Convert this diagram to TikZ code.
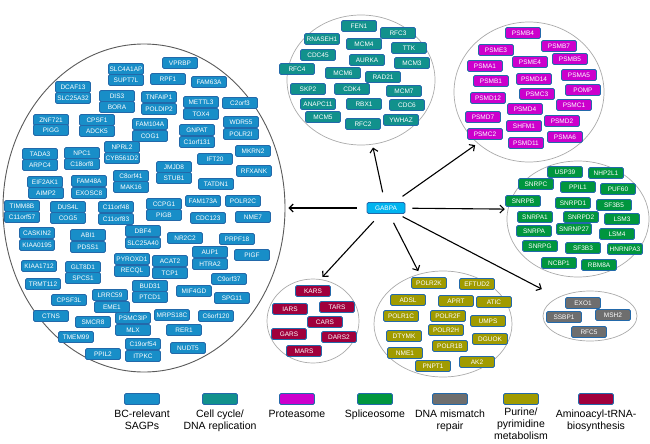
\documentclass[tikz,border=0pt]{standalone}
\usepackage{fontspec}
\setmainfont{Liberation Sans}
\usetikzlibrary{arrows.meta,positioning,shapes.geometric}
\definecolor{geneedge}{RGB}{35,105,170}
\definecolor{bcfill}{RGB}{24,142,200}
\definecolor{cycfill}{RGB}{17,145,140}
\definecolor{protfill}{RGB}{204,0,204}
\definecolor{splfill}{RGB}{0,150,62}
\definecolor{mmrfill}{RGB}{110,110,110}
\definecolor{purfill}{RGB}{160,155,0}
\definecolor{aarsfill}{RGB}{160,0,60}
\definecolor{gabfill}{RGB}{0,180,240}
\definecolor{grpline}{RGB}{170,170,170}

\begin{document}
\begin{tikzpicture}[x=1pt, y=-1pt,
    gene/.style={rounded corners=1.5pt, draw=geneedge, line width=0.8pt, text=white, font=\fontsize{6.5}{7}\selectfont, minimum width=35pt, minimum height=11pt, inner sep=1pt},
    bc/.style={gene, fill=bcfill},
    cyc/.style={gene, fill=cycfill},
    prot/.style={gene, fill=protfill},
    spl/.style={gene, fill=splfill},
    mmr/.style={gene, fill=mmrfill},
    pur/.style={gene, fill=purfill},
    aars/.style={gene, fill=aarsfill},
    grp/.style={ellipse, draw=grpline, line width=0.7pt, inner sep=0pt},
    legtxt/.style={align=center, font=\fontsize{10.5}{12}\selectfont, inner sep=0pt},
    >={Straight Barb[length=4pt,width=8pt]},
    arr/.style={->, line width=1.1pt, shorten <=10pt, shorten >=3pt}]
    \useasboundingbox (0,0) rectangle (650,444);

    % groups
    \node[grp, draw={rgb,255:red,90;green,90;blue,90}, line width=0.9pt, minimum width=282pt, minimum height=328pt] (bcset) at (144,208) {};
    \node[grp, minimum width=148pt, minimum height=130pt] (cellcyc) at (361,80) {};
    \node[grp, minimum width=150pt, minimum height=140pt] (proteas) at (529,92) {};
    \node[grp, minimum width=142pt, minimum height=116pt] (splice) at (578,219) {};
    \node[grp, minimum width=92pt, minimum height=84pt] (aminoacyl) at (313,321) {};
    \node[grp, minimum width=138pt, minimum height=106pt] (purine) at (443,324) {};
    \node[grp, minimum width=94pt, minimum height=50pt] (mismatch) at (590,316) {};

    % BC-relevant SAGPs
    \node[bc] (VPRBP) at (180,63) {VPRBP};
    \node[bc] (SLC4A1AP) at (126,69) {SLC4A1AP};
    \node[bc] (SUPT7L) at (126,80) {SUPT7L};
    \node[bc] (RPF1) at (168,79) {RPF1};
    \node[bc] (FAM63A) at (209,82) {FAM63A};
    \node[bc] (DCAF13) at (73,87) {DCAF13};
    \node[bc] (SLC25A32) at (73,98) {SLC25A32};
    \node[bc] (DIS3) at (117,96) {DIS3};
    \node[bc] (BORA) at (117,107) {BORA};
    \node[bc] (TNFAIP1) at (159,97) {TNFAIP1};
    \node[bc] (POLDIP2) at (159,109) {POLDIP2};
    \node[bc] (METTL3) at (201,102) {METTL3};
    \node[bc] (TOX4) at (201,114) {TOX4};
    \node[bc] (C2orf3) at (240,103) {C2orf3};
    \node[bc] (ZNF721) at (51,120) {ZNF721};
    \node[bc] (PIGG) at (51,130) {PIGG};
    \node[bc] (CPSF1) at (97,120) {CPSF1};
    \node[bc] (ADCK5) at (97,131) {ADCK5};
    \node[bc] (FAM104A) at (150,124) {FAM104A};
    \node[bc] (COG1) at (150,136) {COG1};
    \node[bc] (GNPAT) at (197,130) {GNPAT};
    \node[bc] (C1orf131) at (197,142) {C1orf131};
    \node[bc] (WDR55) at (241,122) {WDR55};
    \node[bc] (POLR2I) at (241,134) {POLR2I};
    \node[bc] (NPRL2) at (122,147) {NPRL2};
    \node[bc] (CYB561D2) at (122,158) {CYB561D2};
    \node[bc] (TADA3) at (40,154) {TADA3};
    \node[bc] (ARPC4) at (40,165) {ARPC4};
    \node[bc] (NPC1) at (82,153) {NPC1};
    \node[bc] (C18orf8) at (82,164) {C18orf8};
    \node[bc] (MKRN2) at (253,151) {MKRN2};
    \node[bc] (IFT20) at (215,159) {IFT20};
    \node[bc] (JMJD8) at (174,167) {JMJD8};
    \node[bc] (STUB1) at (174,178) {STUB1};
    \node[bc] (RFXANK) at (254,171) {RFXANK};
    \node[bc] (TATDN1) at (216,184) {TATDN1};
    \node[bc] (EIF2AK1) at (45,182) {EIF2AK1};
    \node[bc] (AIMP2) at (46,193) {AIMP2};
    \node[bc] (FAM48A) at (89,181) {FAM48A};
    \node[bc] (EXOSC8) at (89,193) {EXOSC8};
    \node[bc] (C8orf41) at (131,176) {C8orf41};
    \node[bc] (MAK16) at (131,187) {MAK16};
    \node[bc] (TIMM8B) at (22,206) {TIMM8B};
    \node[bc] (C11orf57) at (22,217) {C11orf57};
    \node[bc] (DUS4L) at (68,207) {DUS4L};
    \node[bc] (COG5) at (68,218) {COG5};
    \node[bc] (C11orf48) at (116,207) {C11orf48};
    \node[bc] (C11orf83) at (116,219) {C11orf83};
    \node[bc] (CCPG1) at (164,204) {CCPG1};
    \node[bc] (PIGB) at (164,215) {PIGB};
    \node[bc] (FAM173A) at (203,201) {FAM173A};
    \node[bc] (POLR2C) at (243,201) {POLR2C};
    \node[bc] (CDC123) at (208,218) {CDC123};
    \node[bc] (NME7) at (253,217) {NME7};
    \node[bc] (CASKIN2) at (37,233) {CASKIN2};
    \node[bc] (KIAA0195) at (37,245) {KIAA0195};
    \node[bc] (ABI1) at (88,235) {ABI1};
    \node[bc] (PDSS1) at (88,247) {PDSS1};
    \node[bc] (DBF4) at (143,231) {DBF4};
    \node[bc] (SLC25A40) at (143,243) {SLC25A40};
    \node[bc] (NR2C2) at (185,238) {NR2C2};
    \node[bc] (PRPF18) at (237,239) {PRPF18};
    \node[bc] (AUP1) at (210,252) {AUP1};
    \node[bc] (HTRA2) at (210,264) {HTRA2};
    \node[bc] (PIGF) at (252,255) {PIGF};
    \node[bc] (PYROXD1) at (132,259) {PYROXD1};
    \node[bc] (RECQL) at (132,271) {RECQL};
    \node[bc] (ACAT2) at (170,261) {ACAT2};
    \node[bc] (TCP1) at (170,273) {TCP1};
    \node[bc] (KIAA1712) at (39,266) {KIAA1712};
    \node[bc] (GLT8D1) at (83,267) {GLT8D1};
    \node[bc] (SPCS1) at (83,278) {SPCS1};
    \node[bc] (TRMT112) at (43,284) {TRMT112};
    \node[bc] (C9orf37) at (229,279) {C9orf37};
    \node[bc] (BUD31) at (150,286) {BUD31};
    \node[bc] (PTCD1) at (150,297) {PTCD1};
    \node[bc] (MIF4GD) at (194,291) {MIF4GD};
    \node[bc] (SPG11) at (232,298) {SPG11};
    \node[bc] (CPSF3L) at (69,300) {CPSF3L};
    \node[bc] (LRRC59) at (110,295) {LRRC59};
    \node[bc] (EME1) at (112,307) {EME1};
    \node[bc] (CTNS) at (51,316) {CTNS};
    \node[bc] (SMCR8) at (93,322) {SMCR8};
    \node[bc] (PSMC3IP) at (133,318) {PSMC3IP};
    \node[bc] (MLX) at (133,330) {MLX};
    \node[bc] (MRPS18C) at (172,315) {MRPS18C};
    \node[bc] (C6orf120) at (216,316) {C6orf120};
    \node[bc] (RER1) at (184,330) {RER1};
    \node[bc] (TMEM99) at (76,337) {TMEM99};
    \node[bc] (C19orf54) at (143,344) {C19orf54};
    \node[bc] (ITPKC) at (143,356) {ITPKC};
    \node[bc] (NUDT5) at (188,348) {NUDT5};
    \node[bc] (PPIL2) at (103,354) {PPIL2};

    % cell cycle / DNA replication
    \node[cyc] (FEN1) at (359,26) {FEN1};
    \node[cyc] (RFC3) at (398,33) {RFC3};
    \node[cyc] (RNASEH1) at (322,39) {RNASEH1};
    \node[cyc] (MCM4) at (364,44) {MCM4};
    \node[cyc] (TTK) at (409,48) {TTK};
    \node[cyc] (CDC45) at (318,55) {CDC45};
    \node[cyc] (AURKA) at (367,60) {AURKA};
    \node[cyc] (MCM3) at (412,63) {MCM3};
    \node[cyc] (RFC4) at (297,69) {RFC4};
    \node[cyc] (MCM6) at (343,73) {MCM6};
    \node[cyc] (RAD21) at (383,77) {RAD21};
    \node[cyc] (SKP2) at (308,89) {SKP2};
    \node[cyc] (CDK4) at (352,89) {CDK4};
    \node[cyc] (MCM7) at (404,91) {MCM7};
    \node[cyc] (ANAPC11) at (318,104) {ANAPC11};
    \node[cyc] (RBX1) at (364,104) {RBX1};
    \node[cyc] (CDC6) at (407,105) {CDC6};
    \node[cyc] (MCM5) at (323,117) {MCM5};
    \node[cyc] (YWHAZ) at (401,120) {YWHAZ};
    \node[cyc] (RFC2) at (363,124) {RFC2};

    % proteasome
    \node[prot] (PSMB4) at (523,33) {PSMB4};
    \node[prot] (PSME3) at (496,50) {PSME3};
    \node[prot] (PSMB7) at (559,46) {PSMB7};
    \node[prot] (PSME4) at (530,62) {PSME4};
    \node[prot] (PSMB5) at (570,59) {PSMB5};
    \node[prot] (PSMA1) at (485,66) {PSMA1};
    \node[prot] (PSMD14) at (534,79) {PSMD14};
    \node[prot] (PSMA5) at (579,75) {PSMA5};
    \node[prot] (PSMB1) at (491,81) {PSMB1};
    \node[prot] (PSMC3) at (537,94) {PSMC3};
    \node[prot] (POMP) at (583,90) {POMP};
    \node[prot] (PSMD12) at (488,98) {PSMD12};
    \node[prot] (PSMC1) at (574,105) {PSMC1};
    \node[prot] (PSMD4) at (525,109) {PSMD4};
    \node[prot] (PSMD7) at (483,117) {PSMD7};
    \node[prot] (SHFM1) at (524,126) {SHFM1};
    \node[prot] (PSMD2) at (562,121) {PSMD2};
    \node[prot] (PSMC2) at (485,134) {PSMC2};
    \node[prot] (PSMA6) at (565,137) {PSMA6};
    \node[prot] (PSMD11) at (526,143) {PSMD11};

    % spliceosome
    \node[spl] (USP39) at (565,172) {USP39};
    \node[spl] (NHP2L1) at (606,173) {NHP2L1};
    \node[spl] (SNRPC) at (536,184) {SNRPC};
    \node[spl] (PPIL1) at (578,187) {PPIL1};
    \node[spl] (PUF60) at (618,189) {PUF60};
    \node[spl] (SNRPB) at (523,201) {SNRPB};
    \node[spl] (SNRPD1) at (573,203) {SNRPD1};
    \node[spl] (SF3B5) at (614,205) {SF3B5};
    \node[spl] (SNRPA1) at (535,217) {SNRPA1};
    \node[spl] (SNRPD2) at (581,217) {SNRPD2};
    \node[spl] (LSM3) at (622,219) {LSM3};
    \node[spl] (SNRPA) at (534,231) {SNRPA};
    \node[spl] (SNRNP27) at (574,229) {SNRNP27};
    \node[spl] (LSM4) at (617,234) {LSM4};
    \node[spl] (SNRPG) at (540,246) {SNRPG};
    \node[spl] (SF3B3) at (583,248) {SF3B3};
    \node[spl] (HNRNPA3) at (625,249) {HNRNPA3};
    \node[spl] (NCBP1) at (559,263) {NCBP1};
    \node[spl] (RBM8A) at (599,265) {RBM8A};

    % aminoacyl-tRNA biosynthesis
    \node[aars] (KARS) at (313,291) {KARS};
    \node[aars] (IARS) at (290,309) {IARS};
    \node[aars] (TARS) at (337,307) {TARS};
    \node[aars] (CARS) at (325,322) {CARS};
    \node[aars] (GARS) at (289,334) {GARS};
    \node[aars] (DARS2) at (339,337) {DARS2};
    \node[aars] (MARS) at (304,351) {MARS};

    % purine / pyrimidine metabolism
    \node[pur] (POLR2K) at (429,283) {POLR2K};
    \node[pur] (EFTUD2) at (477,284) {EFTUD2};
    \node[pur] (ADSL) at (408,300) {ADSL};
    \node[pur] (APRT) at (456,301) {APRT};
    \node[pur] (ATIC) at (494,302) {ATIC};
    \node[pur] (POLR1C) at (401,316) {POLR1C};
    \node[pur] (POLR2F) at (448,316) {POLR2F};
    \node[pur] (UMPS) at (488,321) {UMPS};
    \node[pur] (DTYMK) at (404,336) {DTYMK};
    \node[pur] (POLR2H) at (446,330) {POLR2H};
    \node[pur] (DGUOK) at (490,339) {DGUOK};
    \node[pur] (NME1) at (405,353) {NME1};
    \node[pur] (POLR1B) at (450,346) {POLR1B};
    \node[pur] (PNPT1) at (433,366) {PNPT1};
    \node[pur] (AK2) at (477,362) {AK2};

    % DNA mismatch repair
    \node[mmr] (EXO1) at (583,303) {EXO1};
    \node[mmr] (SSBP1) at (564,317) {SSBP1};
    \node[mmr] (MSH2) at (613,315) {MSH2};
    \node[mmr] (RFC5) at (589,332) {RFC5};

    % hub
    \node[gene, fill=gabfill, minimum width=38pt] (gabpa) at (386,208) {GABPA};

    \draw[arr] (gabpa) -- (bcset.east);
    \draw[arr] (gabpa) -- (cellcyc.-80);
    \draw[arr] (gabpa) -- (proteas.-135);
    \draw[arr, shorten <=7pt] (gabpa) -- (splice.172);
    \draw[arr] (gabpa) -- (aminoacyl.80);
    \draw[arr] (gabpa) -- (purine.115);
    \draw[arr, shorten <=6pt, shorten >=18pt] (gabpa) -- (mismatch.150);

    % legend
    \node[bc] (legbc) at (142,399) {};
    \node[cyc] (legcyc) at (220,399) {};
    \node[prot] (legprot) at (297,399) {};
    \node[spl] (legspl) at (375,399) {};
    \node[mmr] (legmmr) at (450,399) {};
    \node[pur] (legpur) at (521,399) {};
    \node[aars] (legaars) at (596,399) {};
    \node[legtxt, below=5pt of legbc] (txtbc) {BC-relevant\\SAGPs};
    \node[legtxt, below=5pt of legcyc] (txtcyc) {Cell cycle/\\DNA replication};
    \node[legtxt, below=5pt of legprot] (txtprot) {Proteasome};
    \node[legtxt, below=5pt of legspl] (txtspl) {Spliceosome};
    \node[legtxt, below=5pt of legmmr] (txtmmr) {DNA mismatch\\repair};
    \node[legtxt, below=3pt of legpur] (txtpur) {Purine/\\pyrimidine\\metabolism};
    \node[legtxt, below=5pt of legaars] (txtaars) {Aminoacyl-tRNA-\\biosynthesis};
\end{tikzpicture}
\end{document}
